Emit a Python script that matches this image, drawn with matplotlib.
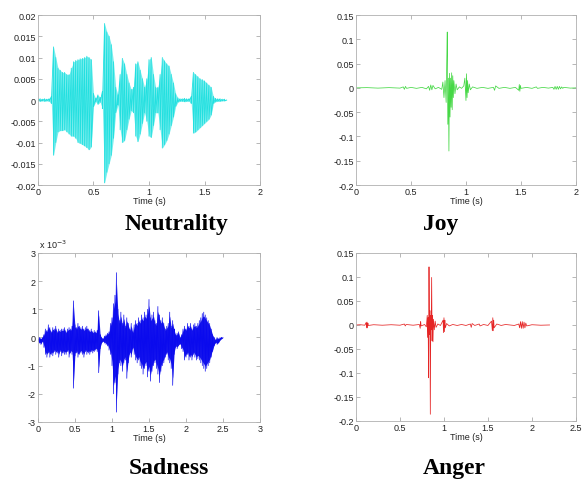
import matplotlib
matplotlib.use("Agg")
import matplotlib.pyplot as plt
import numpy as np

# ---- Neutrality: peak envelope every 0.02 s from 0 to 1.70 s
neut_up = [0.0002, 0.0003, 0.0002, 0.0003, 0.0002, 0.0003, 0.0008, 0.0125, 0.0100, 0.0075,
           0.0070, 0.0065, 0.0065, 0.0060, 0.0060, 0.0075, 0.0090, 0.0093, 0.0095, 0.0097,
           0.0098, 0.0100, 0.0103, 0.0100, 0.0095, 0.0015, 0.0004, 0.0012, 0.0006, 0.0020,
           0.0180, 0.0160, 0.0150, 0.0130, 0.0090, 0.0030, 0.0012, 0.0060, 0.0098, 0.0085,
           0.0060, 0.0040, 0.0025, 0.0030, 0.0085, 0.0090, 0.0070, 0.0050, 0.0030, 0.0050,
           0.0095, 0.0100, 0.0060, 0.0030, 0.0030, 0.0060, 0.0100, 0.0092, 0.0085, 0.0080,
           0.0060, 0.0040, 0.0015, 0.0005, 0.0003, 0.0003, 0.0004, 0.0003, 0.0003, 0.0008,
           0.0065, 0.0060, 0.0055, 0.0050, 0.0048, 0.0045, 0.0040, 0.0035, 0.0030, 0.0008,
           0.0004, 0.0003, 0.0003, 0.0002, 0.0002, 0.0000]
neut_lo = [-0.0002, -0.0003, -0.0002, -0.0003, -0.0002, -0.0003, -0.0008, -0.0130, -0.0100, -0.0075,
           -0.0072, -0.0072, -0.0070, -0.0075, -0.0080, -0.0085, -0.0085, -0.0090, -0.0100, -0.0102,
           -0.0105, -0.0108, -0.0112, -0.0117, -0.0110, -0.0015, -0.0004, -0.0010, -0.0005, -0.0020,
           -0.0195, -0.0170, -0.0150, -0.0130, -0.0090, -0.0030, -0.0012, -0.0070, -0.0100, -0.0095,
           -0.0070, -0.0045, -0.0025, -0.0030, -0.0085, -0.0098, -0.0080, -0.0055, -0.0030, -0.0050,
           -0.0085, -0.0088, -0.0060, -0.0030, -0.0030, -0.0070, -0.0113, -0.0105, -0.0095, -0.0080,
           -0.0060, -0.0040, -0.0015, -0.0005, -0.0003, -0.0003, -0.0004, -0.0003, -0.0003, -0.0008,
           -0.0078, -0.0075, -0.0070, -0.0065, -0.0060, -0.0055, -0.0050, -0.0045, -0.0035, -0.0008,
           -0.0004, -0.0003, -0.0003, -0.0002, -0.0002, 0.0000]

# ---- Sadness: peak envelope (x 1e-3) every 0.02 s from 0 to 2.50 s
sad_up = [-0.05, 0.0, -0.05, 0.0, 0.1, 0.3, 0.25, 0.45, 0.35, 0.2,
          0.35, 0.3, 0.4, 0.2, 0.3, 0.25, 0.3, 0.3, 0.35, 0.2,
          0.3, 0.35, 0.3, 0.4, 1.3, 0.45, 0.35, 0.5, 0.4, 0.35,
          0.4, 0.3, 0.35, 0.4, 0.3, 0.25, 0.3, 0.2, 0.25, 0.2,
          0.25, 0.95, 0.1, 0.0, -0.05, 0.05, 0.1, 0.15, 0.2, 0.5,
          0.7, 1.2, 1.5, 2.3, 1.0, 0.6, 0.9, 0.5, 0.8, 0.4,
          0.7, 0.5, 0.3, 0.5, 0.2, 0.45, 0.6, 0.5, 0.7, 0.6,
          0.8, 0.7, 0.9, 0.8, 1.0, 1.35, 0.7, 0.8, 0.9, 0.6,
          0.5, 1.1, 0.8, 0.6, 0.7, 0.5, 0.3, 0.4, 0.5, 0.9,
          0.4, 0.6, 0.3, 0.1, 0.15, 0.2, 0.0, 0.1, 0.3, 0.4,
          0.3, 0.5, 0.4, 0.5, 0.3, 0.45, 0.5, 0.4, 0.5, 0.6,
          0.7, 0.85, 0.9, 0.8, 0.7, 0.6, 0.5, 0.3, 0.1, 0.0,
          -0.1, 0.0, -0.05, 0.0, 0.0, 0.0]
sad_lo = [-0.15, -0.2, -0.25, -0.15, -0.35, -0.6, -0.7, -0.55, -0.7, -0.6,
          -0.65, -0.5, -0.6, -0.55, -0.7, -0.5, -0.65, -0.55, -0.6, -0.6,
          -0.5, -0.7, -0.55, -0.6, -1.8, -0.65, -0.55, -0.7, -0.6, -0.55,
          -0.6, -0.7, -0.5, -0.6, -0.55, -0.6, -0.5, -0.55, -0.5, -0.45,
          -0.5, -1.25, -0.4, -0.2, -0.15, -0.2, -0.25, -0.3, -0.45, -0.6,
          -1.0, -2.0, -1.6, -2.65, -1.3, -0.9, -1.0, -1.2, -0.9, -0.8,
          -1.45, -0.9, -0.6, -0.7, -0.4, -0.6, -0.8, -0.9, -0.8, -1.0,
          -1.1, -1.3, -1.1, -1.0, -1.4, -1.2, -1.55, -1.2, -1.0, -0.9,
          -1.1, -1.3, -1.6, -1.2, -1.0, -0.9, -0.7, -0.6, -0.8, -0.9,
          -1.1, -1.7, -0.6, -0.35, -0.4, -0.3, -0.25, -0.4, -0.5, -0.8,
          -0.7, -0.6, -0.8, -0.7, -0.8, -0.6, -0.7, -0.8, -0.75, -0.8,
          -0.9, -1.0, -1.1, -1.2, -1.1, -1.0, -0.9, -0.7, -0.5, -0.3,
          -0.2, -0.25, -0.2, -0.1, -0.05, 0.0]

# ---- Joy: waveform samples (time, amplitude)
joy_t = [0.0, 0.1, 0.2, 0.3, 0.40, 0.43, 0.44, 0.45, 0.46, 0.5, 0.55, 0.6, 0.64, 0.66, 0.67,
         0.68, 0.69, 0.70, 0.72, 0.75, 0.78, 0.79, 0.80, 0.81, 0.82, 0.825, 0.83, 0.835, 0.84,
         0.845, 0.85, 0.855, 0.86, 0.865, 0.87, 0.875, 0.88, 0.885, 0.89, 0.90, 0.91, 0.92,
         0.94, 0.96, 0.98, 0.99, 1.00, 1.005, 1.01, 1.015, 1.02, 1.03, 1.04, 1.06, 1.10, 1.15,
         1.2, 1.25, 1.26, 1.27, 1.30, 1.35, 1.4, 1.45, 1.48, 1.485, 1.49, 1.495, 1.50, 1.55,
         1.6, 1.64, 1.65, 1.7, 1.75, 1.79, 1.80, 1.81, 1.82, 1.83, 1.84, 1.85, 1.86, 1.87,
         1.88, 1.89, 1.95, 2.0]
joy_y = [0.0, 0.0005, -0.0005, 0.0005, -0.0005, 0.002, -0.003, 0.003, -0.001, 0.001, -0.001, 0.001,
         -0.002, 0.003, -0.005, 0.006, -0.004, 0.005, -0.002, 0.001, -0.003, 0.012, -0.02, 0.015,
         -0.03, 0.05, 0.115, -0.075, 0.02, -0.13, 0.03, -0.06, 0.02, -0.04, 0.031, -0.045, 0.025,
         -0.02, 0.015, -0.012, 0.008, -0.004, 0.002, -0.001, 0.004, 0.02, -0.026, 0.029, -0.02,
         0.015, -0.01, 0.008, -0.004, 0.002, -0.001, 0.001, -0.001, 0.001, -0.005, 0.004, -0.001,
         0.001, -0.001, 0.001, -0.005, 0.007, -0.007, 0.005, -0.001, 0.001, -0.001, 0.002,
         -0.001, 0.001, -0.0005, 0.001, -0.003, 0.003, -0.003, 0.003, -0.003, 0.003, -0.002,
         0.002, -0.001, 0.001, -0.0005, 0.0]

# ---- Anger: waveform samples (time, amplitude)
ang_t = [0.0, 0.05, 0.1, 0.115, 0.12, 0.125, 0.13, 0.135, 0.14, 0.2, 0.3, 0.4, 0.5, 0.55, 0.56,
         0.57, 0.65, 0.72, 0.73, 0.735, 0.74, 0.78, 0.80, 0.81, 0.815, 0.82, 0.825, 0.83, 0.835,
         0.84, 0.845, 0.85, 0.855, 0.86, 0.865, 0.87, 0.875, 0.88, 0.89, 0.90, 0.91, 0.93, 0.96,
         0.99, 0.995, 1.0, 1.005, 1.01, 1.015, 1.03, 1.06, 1.1, 1.15, 1.2, 1.25, 1.30, 1.31, 1.32,
         1.35, 1.40, 1.41, 1.45, 1.50, 1.54, 1.55, 1.555, 1.56, 1.565, 1.57, 1.60, 1.65, 1.7, 1.8,
         1.85, 1.86, 1.87, 1.88, 1.89, 1.90, 1.91, 1.92, 1.93, 1.94, 2.0, 2.1, 2.2]
ang_y = [0.0, 0.0005, -0.0005, 0.005, -0.006, 0.006, -0.006, 0.004, -0.001, 0.0005, -0.0005, 0.0005,
         -0.0005, 0.002, -0.002, 0.001, -0.0005, 0.001, -0.007, 0.007, -0.002, 0.001, -0.004, 0.02,
         -0.026, 0.015, -0.11, 0.121, -0.02, 0.03, -0.186, 0.02, -0.01, 0.099, -0.033, 0.02,
         -0.035, 0.012, -0.01, 0.008, -0.005, 0.002, -0.001, 0.01, -0.016, 0.015, -0.014, 0.01,
         -0.006, 0.003, -0.002, 0.001, -0.001, 0.001, -0.001, 0.002, -0.005, 0.003, -0.001, 0.002,
         -0.002, 0.001, -0.001, 0.008, -0.012, 0.015, -0.012, 0.01, -0.006, 0.002, -0.001, 0.001,
         -0.001, 0.002, -0.006, 0.007, -0.007, 0.007, -0.007, 0.006, -0.006, 0.004, -0.002, 0.0005,
         -0.0005, 0.0]

titles = ["Neutrality", "Joy", "Sadness", "Anger"]


def zigzag(up, lo, tmax):
    t = np.linspace(0, tmax, len(up))
    x = np.repeat(t, 2)
    y = np.column_stack([up, lo]).ravel()
    return t, x, y


def style(ax, xlim, ylim, xticks, yticks, ylabels):
    ax.set_xlim(xlim)
    ax.set_ylim(ylim)
    ax.set_xticks(xticks)
    ax.set_xticklabels(["%g" % v for v in xticks])
    ax.set_yticks(yticks)
    ax.set_yticklabels(ylabels)
    ax.tick_params(direction="in", top=True, right=True, length=3, width=0.5,
                   color="#9a9a9a", labelcolor="#222222", labelsize=6.5, pad=1.5)
    for s in ax.spines.values():
        s.set_color("#b0b0b0")
        s.set_linewidth(0.6)
    ax.set_xlabel("Time (s)", fontsize=6.5, labelpad=0, color="#222222")


plt.rcParams["font.family"] = "Liberation Sans"
fig = plt.figure(figsize=(5.88, 4.81), dpi=100)

ax1 = fig.add_axes([0.0646, 0.6133, 0.3776, 0.3534])
t, x, y = zigzag(neut_up, neut_lo, 1.70)
ax1.fill_between(t, neut_lo, neut_up, color="#7aeded", lw=0)
ax1.plot(x, y, color="#22e0e0", lw=0.6)
yt = [-0.02, -0.015, -0.01, -0.005, 0, 0.005, 0.01, 0.015, 0.02]
style(ax1, (0, 2), (-0.02, 0.02), [0, 0.5, 1, 1.5, 2], yt, ["%g" % v for v in yt])

ax2 = fig.add_axes([0.6054, 0.6133, 0.3741, 0.3534])
ax2.plot(joy_t, joy_y, color="#46d846", lw=0.55)
yt = [-0.2, -0.15, -0.1, -0.05, 0, 0.05, 0.1, 0.15]
style(ax2, (0, 2), (-0.2, 0.15), [0, 0.5, 1, 1.5, 2], yt, ["%g" % v for v in yt])

ax3 = fig.add_axes([0.0646, 0.1206, 0.3776, 0.3514])
t, x, y = zigzag(sad_up, sad_lo, 2.50)
ax3.fill_between(t, np.array(sad_lo) * 0.85, np.array(sad_up) * 0.85, color="#1c1cec", lw=0)
ax3.plot(x, y, color="#0a0aee", lw=0.5)
yt = [-3, -2, -1, 0, 1, 2, 3]
style(ax3, (0, 3), (-3, 3), [0, 0.5, 1, 1.5, 2, 2.5, 3], yt, ["%g" % v for v in yt])
fig.text(0.066, 0.478, r"x 10$^{-3}$", fontsize=6.5, color="#222222", va="bottom")

ax4 = fig.add_axes([0.6054, 0.1227, 0.3741, 0.3493])
ax4.plot(ang_t, ang_y, color="#e52525", lw=0.55)
yt = [-0.2, -0.15, -0.1, -0.05, 0, 0.05, 0.1, 0.15]
style(ax4, (0, 2.5), (-0.2, 0.15), [0, 0.5, 1, 1.5, 2, 2.5], yt, ["%g" % v for v in yt])

pos = [(0.301, 0.533), (0.749, 0.533), (0.288, 0.025), (0.772, 0.025)]
for (px, py), name in zip(pos, titles):
    fig.text(px, py, name, ha="center", va="center", fontsize=17,
             fontweight="bold", family="Liberation Serif")

fig.savefig("out.png", dpi=100, facecolor="white")
